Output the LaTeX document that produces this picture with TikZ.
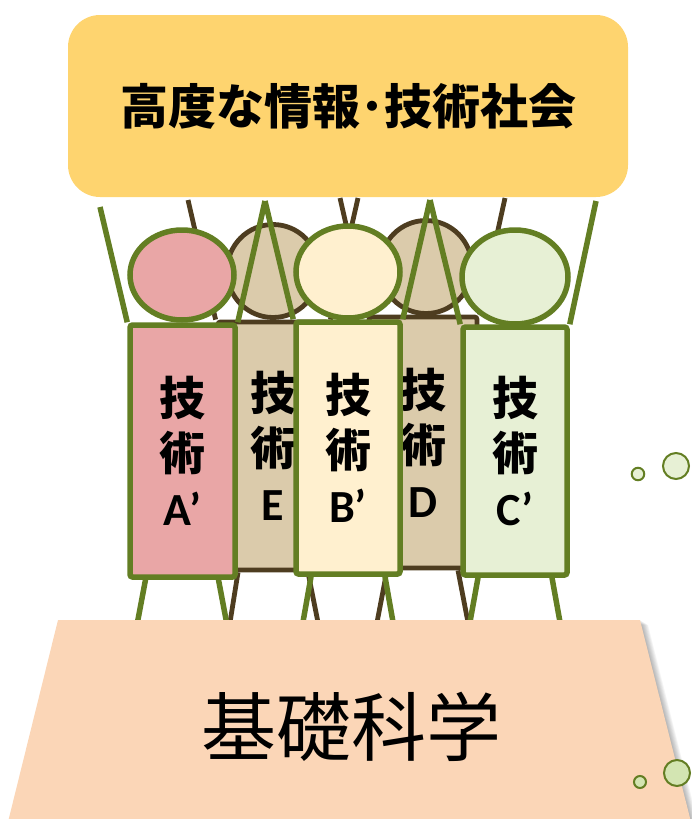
\documentclass[tikz,border=0pt]{standalone}
\usepackage{fontspec}
\newfontfamily\jpfont{Noto Sans CJK JP}
\newfontfamily\latinfont{Carlito}
\usetikzlibrary{shapes.geometric}

\definecolor{societyYellow}{HTML}{FED46F}
\definecolor{scienceOrange}{HTML}{FBD6B7}
\definecolor{leafGreen}{HTML}{637E23}
\definecolor{barkBrown}{HTML}{4E3D20}
\definecolor{sandFill}{HTML}{DBCBAB}
\definecolor{pinkFill}{HTML}{E9A6A6}
\definecolor{creamFill}{HTML}{FFF0CF}
\definecolor{mintFill}{HTML}{E7F0D5}
\definecolor{bubbleFill}{HTML}{D3E5B2}

\newcommand{\techLabel}[1]{技\\術\\{\latinfont #1}}

\begin{document}
\begin{tikzpicture}[x=1pt, y=-1pt]
	\tikzstyle{headStyle}=[ellipse, inner sep=0pt]
	\tikzstyle{bodyStyle}=[rectangle, rounded corners=2.5pt, inner sep=0pt, align=center, font=\fontsize{46}{55}\selectfont\bfseries\jpfont]
	\tikzstyle{greenLine}=[draw=leafGreen, line width=5.5pt]
	\tikzstyle{brownLine}=[draw=barkBrown, line width=4.8pt]
	\tikzstyle{bubbleStyle}=[circle, draw=leafGreen, line width=2pt, inner sep=0pt]
	\useasboundingbox (0,0) rectangle (691,819);

	\node[fill=societyYellow, rounded corners=32pt, minimum width=560pt, minimum height=182pt, font=\fontsize{48}{58}\selectfont\bfseries\jpfont] (society) at (348,106) {高度な情報･技術社会};

	\coordinate (handEl) at (188,200);
	\coordinate (handEr) at (358,198);
	\coordinate (handDl) at (340,198);
	\coordinate (handDr) at (505,198);
	\coordinate (handAl) at (100,207);
	\coordinate (handAB) at (265,201);
	\coordinate (handBC) at (430,200);
	\coordinate (handCr) at (596,201);

	\node[headStyle, brownLine, fill=sandFill, minimum width=92pt, minimum height=93pt] (headE) at (273,271) {};
	\node[headStyle, brownLine, fill=sandFill, minimum width=92pt, minimum height=93pt] (headD) at (426,267) {};
	\node[bodyStyle, brownLine, fill=sandFill, minimum width=110pt, minimum height=248pt] (bodyE) at (273,446) {\techLabel{E}};
	\node[bodyStyle, brownLine, fill=sandFill, minimum width=108pt, minimum height=251pt] (bodyD) at (423,442.5) {\techLabel{D}};
	\draw[brownLine] (bodyE.north west) -- (handEl);
	\draw[brownLine] (bodyE.north east) -- (handEr);
	\draw[brownLine] (bodyD.north west) -- (handDl);
	\draw[brownLine] (bodyD.north east) -- (handDr);
	\draw[brownLine] ([xshift=-35pt]bodyE.south) -- +(-8,50);
	\draw[brownLine] ([xshift=35pt]bodyE.south) -- +(10,50);
	\draw[brownLine] ([xshift=-36pt]bodyD.south) -- +(-10,52);
	\draw[brownLine] ([xshift=35pt]bodyD.south) -- +(10,52);

	\node[headStyle, greenLine, fill=pinkFill, minimum width=104pt, minimum height=90pt] (headA) at (182,275) {};
	\node[headStyle, greenLine, fill=creamFill, minimum width=104pt, minimum height=92pt] (headB) at (348,272) {};
	\node[headStyle, greenLine, fill=mintFill, minimum width=106pt, minimum height=94pt] (headC) at (515,277) {};
	\node[bodyStyle, greenLine, fill=pinkFill, minimum width=105pt, minimum height=252pt] (bodyA) at (182.5,451) {\techLabel{A’}};
	\node[bodyStyle, greenLine, fill=creamFill, minimum width=104pt, minimum height=252pt] (bodyB) at (348,448) {\techLabel{B’}};
	\node[bodyStyle, greenLine, fill=mintFill, minimum width=104pt, minimum height=248pt] (bodyC) at (515,451) {\techLabel{C’}};
	\draw[greenLine] (bodyA.north west) -- (handAl);
	\draw[greenLine] (bodyA.north east) -- (handAB);
	\draw[greenLine] (bodyB.north west) -- (handAB);
	\draw[greenLine] (bodyB.north east) -- (handBC);
	\draw[greenLine] (bodyC.north west) -- (handBC);
	\draw[greenLine] (bodyC.north east) -- (handCr);
	\draw[greenLine] ([xshift=-37pt]bodyA.south) -- +(-8.5,45);
	\draw[greenLine] ([xshift=36pt]bodyA.south) -- +(8.5,45);
	\draw[greenLine] ([xshift=-37pt]bodyB.south) -- +(-8.5,48);
	\draw[greenLine] ([xshift=37pt]bodyB.south) -- +(8.5,48);
	\draw[greenLine] ([xshift=-37pt]bodyC.south) -- +(-8.5,47);
	\draw[greenLine] ([xshift=37pt]bodyC.south) -- +(8.5,47);

	\foreach \s in {1,...,8}
		\fill[black, opacity=0.04, shift={(\s,0.6*\s)}] (58,620) -- (640,620) -- (693,830) -- (6,830) -- cycle;
	\fill[scienceOrange] (58,620) -- (640,620) -- (693,830) -- (6,830) -- cycle;
	\node[font=\fontsize{75}{80}\selectfont\jpfont] (science) at (351,727) {基礎科学};

	\node[bubbleStyle, fill=mintFill, minimum size=12.5pt] (dropTopS) at (638,474) {};
	\node[bubbleStyle, fill=mintFill, minimum size=26pt] (dropTopL) at (676,466) {};
	\node[bubbleStyle, fill=bubbleFill, minimum size=12pt] (dropLowS) at (640,782) {};
	\node[bubbleStyle, fill=bubbleFill, minimum size=26pt] (dropLowL) at (677,773) {};
\end{tikzpicture}
\end{document}
